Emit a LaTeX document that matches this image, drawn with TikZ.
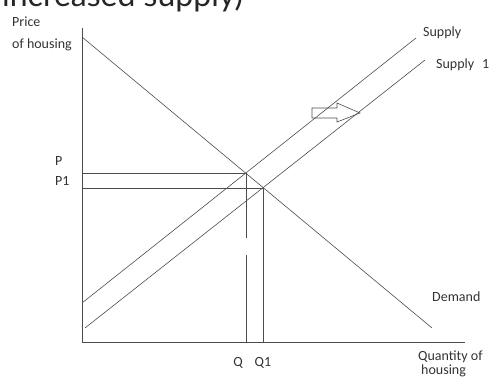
\documentclass[tikz,border=0pt]{standalone}
\usepackage{fontspec}
\setmainfont{Carlito}
\newfontfamily\titlefont{Lato}
\begin{document}
\begin{tikzpicture}[x=1pt,y=-1pt,
  curve/.style={draw=black!70, line width=0.6pt},
  lbl/.style={font=\fontsize{14}{16}\selectfont, text=black!80, inner sep=0pt}]
\useasboundingbox (0,0) rectangle (504,379);
\clip (0,0) rectangle (504,379);
\node[anchor=base west, inner sep=0pt, font=\titlefont\fontsize{32}{36}\selectfont, text=black!85] (title) at (2,7) {increased supply)};
% axes
\coordinate (O) at (82,342);
\coordinate (Ytop) at (82,28);
\coordinate (Xend) at (465,342);
% curves
\coordinate (D0) at (82,37);
\coordinate (D1) at (432,328);
\coordinate (S0) at (82,303);
\coordinate (S1) at (416,38);
\coordinate (T0) at (85,328);
\coordinate (T1) at (425,60);
\coordinate (E) at (246,173);
\coordinate (E1) at (263,188);
\coordinate (G0) at (246,238);
\coordinate (G1) at (246,255);
\draw[curve] (Ytop) -- (O) -- (Xend);
\draw[curve] (D0) -- (D1);
\draw[curve] (S0) -- (S1);
\draw[curve] (T0) -- (T1);
\draw[curve] (E -| O) -- (E);
\draw[curve] (E1 -| O) -- (E1);
\draw[curve] (E) -- (G0);
\draw[curve] (G1) -- (E |- O);
\draw[curve] (E1) -- (E1 |- O);
% shift arrow
\draw[curve] (312,108) -- (337,108) -- (337,103) -- (360,113) -- (337,122) -- (337,118) -- (312,118) -- cycle;
% labels
\node[lbl, anchor=west] (price) at (12,22) {Price};
\node[lbl, anchor=west] (ofh) at (12,45) {of housing};
\node[lbl, anchor=west] (p) at (55,161) {P};
\node[lbl, anchor=west] (p1) at (55,181) {P1};
\node[lbl] (q) at (238,363) {Q};
\node[lbl] (q1) at (263,363) {Q1};
\node[lbl, anchor=west] (sup) at (423,33) {Supply};
\node[lbl, anchor=west] (sup1) at (436,65) {Supply\hspace{8pt}1};
\node[lbl, anchor=west] (dem) at (432,297) {Demand};
\node[lbl, anchor=base west] (qty) at (418,361) {Quantity of};
\node[lbl, anchor=base west] (hous) at (421,375) {housing};
\end{tikzpicture}
\end{document}
